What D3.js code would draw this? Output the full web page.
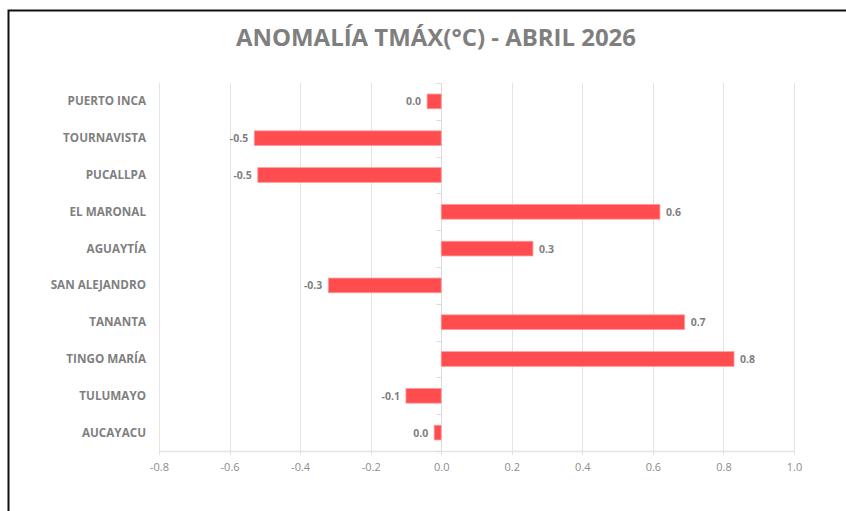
<!DOCTYPE html>
<html lang="es">
  <head>
    <meta charset="utf-8">
    <title>Anomalía TMáx - Abril 2026</title>
    <script src="https://d3js.org/d3.v7.js"></script>
    <style>
      body {margin: 0; background: white;}
      svg {display: block;}
    </style>
  </head>
  <body>
  <script>

  // data
  var stations = ["PUERTO INCA", "TOURNAVISTA", "PUCALLPA", "EL MARONAL", "AGUAYTÍA",
                  "SAN ALEJANDRO", "TANANTA", "TINGO MARÍA", "TULUMAYO", "AUCAYACU"];
  var anomalies = [-0.04, -0.53, -0.52, 0.62, 0.26, -0.32, 0.69, 0.83, -0.10, -0.02];
  var xTicks = [-0.8, -0.6, -0.4, -0.2, 0.0, 0.2, 0.4, 0.6, 0.8, 1.0];
  var title = "ANOMALÍA TMÁX(°C) - ABRIL 2026";

  var data = stations.map(function(s, i) {
    return {station: s, value: anomalies[i]};
  });

  var w = 846;
  var h = 511;
  var margin = {top: 83, right: 52, bottom: 60, left: 159};
  var innerWidth = 794 - margin.left;
  var innerHeight = 451 - margin.top;
  var grey = "#7f7f7f";
  var font = "'Open Sans', sans-serif";

  // hyphen instead of unicode minus, and no "-0.0"
  var fmt = function(v) {
    var s = d3.format(".1f")(v).replace("−", "-");
    return s === "-0.0" ? "0.0" : s;
  };

  var svg = d3.select("body")
    .append("svg")
      .attr("width", w)
      .attr("height", h);

  // frame (only top and left visible)
  svg.append("path")
     .attr("d", "M8.5," + h + " L8.5,10.5 L" + w + ",10.5")
     .attr("fill", "none")
     .attr("stroke", "#111")
     .attr("stroke-width", 2);

  svg.append("text")
     .attr("x", 436)
     .attr("y", 46)
     .attr("text-anchor", "middle")
     .style("font-family", font)
     .style("font-weight", "bold")
     .style("font-size", "24px")
     .attr("fill", grey)
     .attr("textLength", 400)
     .attr("lengthAdjust", "spacingAndGlyphs")
     .text(title);

  var g = svg.append("g")
     .attr("transform", `translate(${margin.left}, ${margin.top})`);

  var xScale = d3.scaleLinear()
      .domain([-0.8, 1.0])
      .range([0, innerWidth]);

  var yScale = d3.scaleBand()
      .domain(stations)
      .range([0, innerHeight])
      .paddingInner(0.6)
      .paddingOuter(0.3);

  // grid lines
  g.selectAll(".grid")
    .data(xTicks)
    .join("line")
      .attr("class", "grid")
      .attr("x1", d => Math.round(xScale(d)) + 0.5)
      .attr("x2", d => Math.round(xScale(d)) + 0.5)
      .attr("y1", 0)
      .attr("y2", innerHeight + 4)
      .attr("stroke", "#e3e3e3")
      .attr("stroke-width", 1);

  // bottom axis
  var xAxis = d3.axisBottom(xScale)
      .tickValues(xTicks)
      .tickFormat(fmt)
      .tickSize(0)
      .tickPadding(12);
  var ax = g.append("g")
      .attr("transform", `translate(0, ${innerHeight})`)
      .call(xAxis);
  ax.select(".domain")
    .attr("stroke", "#e3e3e3")
    .attr("stroke-width", 1.5);
  ax.selectAll("text")
    .attr("y", 20)
    .attr("dy", null)
    .attr("fill", "#8c8c8c")
    .style("font-family", font)
    .style("font-size", "11px");

  // zero axis with category ticks
  var x0 = Math.round(xScale(0)) + 0.5;
  g.append("line")
    .attr("x1", x0).attr("x2", x0)
    .attr("y1", 0).attr("y2", innerHeight)
    .attr("stroke", "#dcdcdc");
  var bounds = d3.range(stations.length + 1).map(i => i * innerHeight / stations.length);
  g.selectAll(".ytick")
    .data(bounds)
    .join("line")
      .attr("class", "ytick")
      .attr("x1", x0 - 5).attr("x2", x0)
      .attr("y1", d => Math.round(d) + 0.5)
      .attr("y2", d => Math.round(d) + 0.5)
      .attr("stroke", "#dcdcdc");

  // bars
  g.selectAll(".bar")
    .data(data)
    .join("rect")
      .attr("class", "bar")
      .attr("x", d => xScale(Math.min(0, d.value)))
      .attr("y", d => yScale(d.station))
      .attr("width", d => Math.abs(xScale(d.value) - xScale(0)))
      .attr("height", yScale.bandwidth())
      .attr("fill", "#ff4d4f")
      .attr("stroke", "#ff9c9c")
      .attr("stroke-width", 0.8);

  // category labels
  g.selectAll(".cat")
    .data(data)
    .join("text")
      .attr("class", "cat")
      .attr("x", -13)
      .attr("y", d => yScale(d.station) + yScale.bandwidth() / 2 + 4)
      .attr("text-anchor", "end")
      .style("font-family", font)
      .style("font-weight", "bold")
      .style("font-size", "11.7px")
      .attr("fill", grey)
      .text(d => d.station);

  // value labels
  g.selectAll(".val")
    .data(data)
    .join("text")
      .attr("class", "val")
      .attr("x", d => d.value < 0 ? xScale(d.value) - 6 : xScale(d.value) + 6)
      .attr("y", d => yScale(d.station) + yScale.bandwidth() / 2 + 4)
      .attr("text-anchor", d => d.value < 0 ? "end" : "start")
      .style("font-family", font)
      .style("font-weight", "bold")
      .style("font-size", "10.5px")
      .attr("fill", grey)
      .text(d => fmt(d.value));

  </script>
  </body>
</html>
